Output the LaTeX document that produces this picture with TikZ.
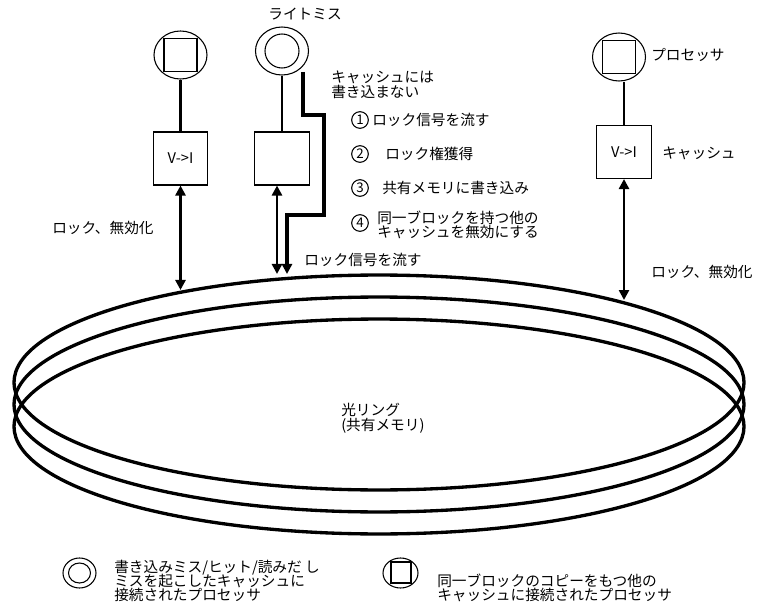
\documentclass[tikz,border=0pt]{standalone}
\usepackage{fontspec}
\setmainfont{Noto Sans CJK JP}
\usetikzlibrary{shapes.geometric,arrows.meta}
\lineskiplimit=-20pt
\begin{document}
\begin{tikzpicture}[x=0.75pt,y=-0.75pt,
 every node/.style={font=\fontsize{11}{11}\selectfont},
 proc/.style={ellipse,draw,line width=0.8pt,minimum width=39.75pt,minimum height=36pt,inner sep=0pt},
 sq/.style={draw,line width=0.8pt,minimum size=24.75pt,inner sep=0pt},
 inner/.style={circle,draw,line width=0.8pt,minimum size=25.5pt,inner sep=0pt},
 cache/.style={draw,line width=0.8pt,minimum width=41pt,minimum height=39.75pt,inner sep=0pt},
 conn/.style={line width=1.6pt},
 sig/.style={line width=2pt,{Triangle[length=7.5pt,width=7.5pt]}-{Triangle[length=7.5pt,width=7.5pt]}},
 wr/.style={line width=2.4pt,line join=miter,-{Triangle[length=7.5pt,width=7.5pt]}},
 ring/.style={line width=2.5pt},
 num/.style={circle,draw,line width=0.8pt,minimum size=12.5pt,inner sep=0pt,font=\fontsize{10}{10}\selectfont},
 lbl/.style={anchor=west,align=left,inner sep=0pt},
 leg/.style={lbl,font=\fontsize{11}{10.5}\selectfont}]
\useasboundingbox (0,0) rectangle (759,609);

% optical ring
\draw[ring] (379,382.5) ellipse [x radius=273.75pt, y radius=80.6pt];
\draw[ring] (379,404.5) ellipse [x radius=273.75pt, y radius=80.6pt];
\draw[ring] (379,426.5) ellipse [x radius=273.75pt, y radius=80.6pt];
\node[lbl] (ringlbl) at (341,418) {光リング\\(共有メモリ)};

% ring contact points
\coordinate (r1) at (180.5,290);
\coordinate (r2) at (277,274);
\coordinate (r3) at (287,274);
\coordinate (r4) at (624,300);

% left processor
\node[proc] (c1) at (180.5,55) {};
\node[sq] (s1) at (180.5,55) {};
\node[cache] (b1) at (180.5,158.5) {V->I};
\draw[conn] (b1.north) -- (b1.north |- c1.south);
\draw[sig] (b1.south) -- (r1);
\node[lbl] (lk1) at (52,228) {ロック、無効化};

% write-miss processor
\node[proc] (c2) at (282,51) {};
\node[inner] (i2) at (282,51) {};
\node (wm) at (305,14) {ライトミス};
\node[cache] (b2) at (282,158.5) {};
\draw[conn] (b2.north) -- (b2.north |- c2.south);
\draw[sig] (b2.south -| r2) -- (r2);
\coordinate (w0) at (303,72);
\draw[wr] (w0) -- (303,115) -- (324,115) -- (324,215) -- (287,215) -- (r3);
\node[lbl] (nc) at (331,85) {キャッシュには\\書き込まない};
\node[lbl] (ls) at (304,260) {ロック信号を流す};

% steps
\node[num] (n1) at (360,120) {1};
\node[lbl] (t1) at (372,120) {ロック信号を流す};
\node[num] (n2) at (360,154) {2};
\node[lbl] (t2) at (385,154) {ロック権獲得};
\node[num] (n3) at (360,188) {3};
\node[lbl] (t3) at (382,188) {共有メモリに書き込み};
\node[num] (n4) at (360,223) {4};
\node[lbl] (t4) at (377,225) {同一ブロックを持つ他の\\キャッシュを無効にする};

% right processor
\node[proc] (c3) at (619,57) {};
\node[sq] (s3) at (619,57) {};
\node[lbl] (pl) at (651,55) {プロセッサ};
\node[cache] (b3) at (624,152) {V->I};
\node[lbl] (cl) at (662,153) {キャッシュ};
\draw[conn] (b3.north) -- (b3.north |- c3.south);
\draw[sig] (b3.south) -- (r4);
\node[lbl] (lk2) at (651,272) {ロック、無効化};

% legend
\node[proc,minimum width=24.75pt,minimum height=22.5pt] (l1) at (79.5,573) {};
\node[ellipse,draw,line width=0.8pt,minimum width=16.5pt,minimum height=15pt,inner sep=0pt] (l1i) at (79.5,573) {};
\node[leg] (l1t) at (114,581) {書き込みミス/ヒット/読みだ し\\ミスを起こしたキャッシュに\\接続されたプロセッサ};
\node[proc,minimum width=26.25pt,minimum height=22.5pt] (l2) at (400.5,573) {};
\node[draw,line width=0.8pt,minimum width=15pt,minimum height=15.75pt,inner sep=0pt] (l2s) at (401,572.5) {};
\node[leg] (l2t) at (437,588) {同一ブロックのコピーをもつ他の\\キャッシュに接続されたプロセッサ};
\end{tikzpicture}
\end{document}
